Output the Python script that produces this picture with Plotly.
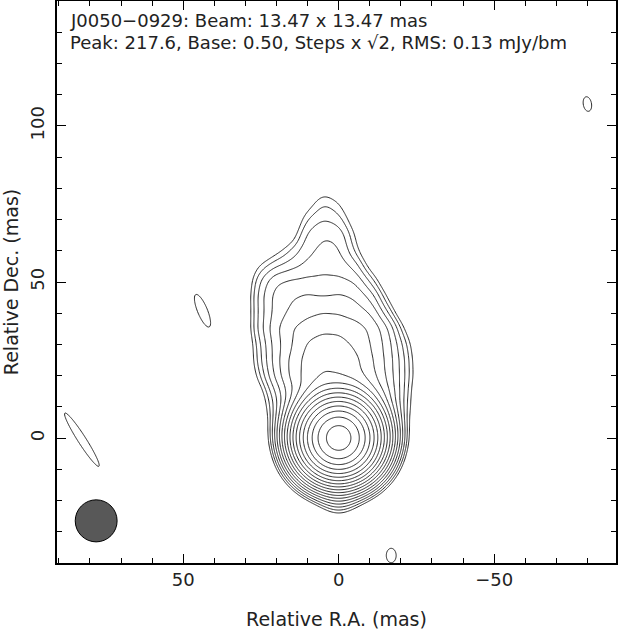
import numpy as np
import plotly.graph_objects as go

# ---- map parameters ----
base_level = 0.50          # mJy/beam, lowest contour
peak_level = 217.6         # mJy/beam
n_levels = 18              # contours: base * sqrt(2)^k, k = 0..17
beam_fwhm = 13.47          # mas (circular)
beam_center_ra = 78.0
beam_center_dec = -26.5

x_ticks = [50, 0, -50]
y_ticks = [0, 50, 100]

# ---- compact components (core, southern tip, isolated noise islands) ----
comp_ra = [0.0, 0.0, 82.6, 43.8, -16.9, -80.0]
comp_dec = [0.0, -20.0, -0.5, 40.8, -37.6, 107.0]
comp_amp = [217.6, 0.5, 0.6, 0.6, 0.6, 0.6]
comp_fwhm_maj = [15.07, 9.4, 39.6, 21.9, 9.0, 9.2]
comp_fwhm_min = [15.07, 9.4, 5.1, 6.2, 6.2, 5.2]
comp_pa = [0, 0, 32.7, 22.5, 0, 10]

# ---- extended jet brightness (mJy/beam) read on a 5 mas lattice ----
jet_ra = [30, 25, 20, 15, 10, 5, 0, -5, -10, -15, -20, -25]
jet_dec = [80, 75, 70, 65, 60, 55, 50, 45, 40, 35, 30, 25, 20, 15, 10, 5, 0]
jet_flux = [
    [0, 0, 0, 0, 0.05, 0.4, 0.15, 0, 0, 0, 0, 0],
    [0, 0, 0, 0, 0.3, 0.78, 0.55, 0.05, 0, 0, 0, 0],
    [0, 0, 0, 0, 0.75, 1.0, 0.85, 0.2, 0, 0, 0, 0],
    [0, 0, 0, 0.15, 1.15, 1.42, 1.38, 0.45, 0, 0, 0, 0],
    [0, 0.05, 0.35, 0.75, 1.3, 1.55, 1.55, 0.6, 0, 0, 0, 0],
    [0.05, 0.55, 0.9, 1.2, 1.55, 1.8, 1.75, 1.3, 0.2, 0, 0, 0],
    [0.05, 1.05, 2.05, 2.15, 2.2, 2.2, 2.15, 2.05, 0.9, 0.05, 0, 0],
    [0.05, 1.25, 2.4, 2.8, 3.1, 2.7, 3.1, 2.8, 1.9, 0.4, 0, 0],
    [0.05, 1.15, 2.3, 3.0, 3.6, 4.05, 3.8, 3.4, 2.9, 1.0, 0.05, 0],
    [0.05, 1.25, 2.7, 4.1, 4.8, 5.3, 5.3, 4.8, 4.0, 2.4, 0.5, 0],
    [0.05, 0.85, 2.4, 3.7, 6.0, 6.6, 6.4, 5.3, 4.0, 2.6, 1.0, 0.15],
    [0.05, 0.85, 2.4, 4.5, 6.5, 8.4, 7.6, 6.5, 4.3, 2.7, 1.2, 0.2],
    [0.05, 0.6, 2.2, 4.5, 6.5, 7.3, 6.65, 6.1, 4.5, 2.7, 1.2, 0.25],
    [0, 0.2, 1.3, 3.1, 5.0, 7.0, 6.5, 6.0, 4.5, 2.9, 1.1, 0.1],
    [0, 0.15, 0.8, 2.0, 3.0, 4.0, 4.0, 4.0, 3.0, 2.0, 0.8, 0.15],
    [0, 0, 0.4, 1.0, 1.5, 2.0, 2.0, 2.0, 1.5, 1.0, 0.4, 0],
    [0, 0, 0.15, 0.4, 0.6, 0.8, 0.8, 0.8, 0.6, 0.4, 0.15, 0],
]
lattice = 5.0
kern_sigma = 3.0

# ---- evaluate the map on a grid ----
step = 0.3
ra = np.arange(-89.6, 91.2, step)
dec = np.arange(-40.6, 140.6, step)
RA, DEC = np.meshgrid(ra, dec)
img = np.zeros_like(RA)
k = 2.0 * np.sqrt(2.0 * np.log(2.0))
for r0, d0, a, fmaj, fmin, pa in zip(comp_ra, comp_dec, comp_amp,
                                     comp_fwhm_maj, comp_fwhm_min, comp_pa):
    smaj, smin = fmaj / k, fmin / k
    t = np.radians(pa)
    dx, dy = RA - r0, DEC - d0
    u = dx * np.sin(t) + dy * np.cos(t)
    v = dx * np.cos(t) - dy * np.sin(t)
    img += a * np.exp(-0.5 * (u ** 2 / smaj ** 2 + v ** 2 / smin ** 2))

norm = 2.0 * np.pi * kern_sigma ** 2 / lattice ** 2
for i, d0 in enumerate(jet_dec):
    for j, r0 in enumerate(jet_ra):
        a = jet_flux[i][j]
        if a > 0:
            img += (a / norm) * np.exp(-((RA - r0) ** 2 + (DEC - d0) ** 2)
                                       / (2 * kern_sigma ** 2))

# contour index: level k  <->  base * sqrt(2)^k
zidx = np.log(np.maximum(img, 1e-4) / base_level) / np.log(np.sqrt(2.0))
zidx = np.round(zidx, 3)

fig = go.Figure()
fig.add_trace(go.Contour(
    x=np.round(ra, 3), y=np.round(dec, 3), z=zidx,
    autocontour=False,
    contours=dict(start=0, end=n_levels - 1, size=1, coloring="lines"),
    colorscale=[[0, "#222222"], [1, "#222222"]],
    line=dict(width=1, smoothing=0.8),
    showscale=False, hoverinfo="skip",
))

r = beam_fwhm / 2.0
fig.add_shape(type="circle", xref="x", yref="y",
              x0=beam_center_ra - r, x1=beam_center_ra + r,
              y0=beam_center_dec - r, y1=beam_center_dec + r,
              fillcolor="#585858", line=dict(color="black", width=1))

font = "DejaVu Sans"
axis_common = dict(
    showline=True, linecolor="black", linewidth=1.5, mirror="allticks",
    ticks="inside", ticklen=9, tickwidth=1, tickcolor="black",
    showgrid=False, zeroline=False, automargin=False,
    tickfont=dict(family=font, size=18, color="#222"),
    minor=dict(ticks="inside", ticklen=5, tickwidth=1, tickcolor="black",
               dtick=10, tick0=0, showgrid=False),
)
fig.update_xaxes(range=[90.6, -89.2], tickvals=x_ticks,
                 ticktext=[str(v).replace("-", "\u2212") for v in x_ticks],
                 ticklabelstandoff=0,
                 title=dict(text="Relative R.A. (mas)", standoff=24,
                            font=dict(family=font, size=19, color="#222")),
                 **axis_common)
fig.update_yaxes(range=[-40, 140], tickvals=y_ticks, tickangle=-90,
                 ticklabelstandoff=4,
                 title=dict(text="Relative Dec. (mas)", standoff=10,
                            font=dict(family=font, size=19, color="#222")),
                 **axis_common)

plot_h = 630 - 1 - 67
fig.add_annotation(xref="paper", yref="paper", x=11 / 559, y=1 - 20 / plot_h,
                   xanchor="left", yanchor="middle", showarrow=False,
                   text="J0050\u22120929: Beam: 13.47 x 13.47 mas",
                   font=dict(family=font, size=18, color="#222"))
fig.add_annotation(xref="paper", yref="paper", x=11 / 559, y=1 - 41.5 / plot_h,
                   xanchor="left", yanchor="middle", showarrow=False,
                   text="Peak: 217.6, Base: 0.50, Steps x \u221a2, RMS: 0.13 mJy/bm",
                   font=dict(family=font, size=18, color="#222"))

fig.update_layout(width=620, height=630,
                  margin=dict(l=57, r=4, t=1, b=67),
                  paper_bgcolor="white", plot_bgcolor="white",
                  showlegend=False)
fig.write_html("out.html", config={"displayModeBar": False},
               post_script="document.body.style.margin='0';")
